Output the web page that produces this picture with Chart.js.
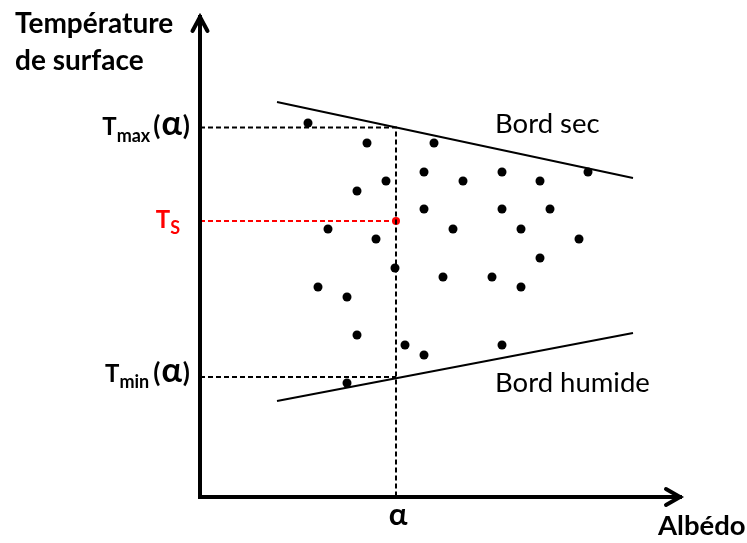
<!DOCTYPE html>
<html>
<head>
 <meta charset="utf-8" />
 <title>Température de surface / Albédo</title>
 <script src="https://cdn.jsdelivr.net/npm/chart.js@4.4.1/dist/chart.umd.min.js"></script>
 <style>
  body { margin: 0; background: #fff; }
  canvas { display: block; }
 </style>
</head>
<body>
 <canvas id="diagramme" width="747" height="543"></canvas>
 <script>
  // nuage de points (albédo, température), unités du schéma
  var albedo = [108, 167, 234, 224, 302, 388, 186, 263, 340, 157,
                224, 302, 350, 128, 253, 321, 176, 379, 340, 195,
                118, 243, 292, 321, 147, 157, 205, 224, 302, 147];
  var temperature = [374, 354, 354, 325, 325, 325, 316, 316, 316, 306,
                     288, 288, 288, 268, 268, 268, 258, 258, 239, 229,
                     210, 220, 220, 210, 200, 162, 152, 142, 152, 114];

  // bords sec et humide du triangle
  var bordSecX = [77, 433];
  var bordSecY = [395, 319];
  var bordHumideX = [77, 433];
  var bordHumideY = [96, 164];

  // valeurs repérées sur les axes
  var alpha = 196;
  var tMax = 369.5;
  var tS = 276;
  var tMin = 120;
  var axeMax = 482;

  function points(xs, ys) {
   return xs.map(function (x, i) { return { x: x, y: ys[i] }; });
  }

  var police = 'Lato, "Open Sans", sans-serif';

  // texte en morceaux (indices, alpha plus gros), aligné à droite
  function texteCompose(ctx, morceaux, droite, y) {
   var total = 0;
   morceaux.forEach(function (m) {
    ctx.font = m.font;
    m.w = ctx.measureText(m.t).width;
    total += m.w + (m.gap || 0);
   });
   var x = droite - total;
   morceaux.forEach(function (m) {
    ctx.font = m.font;
    ctx.fillText(m.t, x, y + (m.dy || 0));
    x += m.w + (m.gap || 0);
   });
  }

  // axes avec flèches + textes
  var decor = {
   id: 'decor',
   afterDatasetsDraw: function (chart) {
    var ctx = chart.ctx;
    var sx = chart.scales.x, sy = chart.scales.y;
    var x0 = sx.getPixelForValue(0), y0 = sy.getPixelForValue(0);
    var xEnd = sx.getPixelForValue(axeMax), yEnd = sy.getPixelForValue(axeMax);

    ctx.save();
    ctx.strokeStyle = '#000';
    ctx.lineWidth = 4;
    ctx.lineCap = 'square';
    ctx.beginPath();
    ctx.moveTo(x0, yEnd + 2);
    ctx.lineTo(x0, y0);
    ctx.lineTo(xEnd - 2, y0);
    ctx.stroke();

    // flèches
    ctx.lineCap = 'round';
    ctx.lineJoin = 'miter';
    ctx.beginPath();
    ctx.moveTo(x0 - 7.5, yEnd + 16);
    ctx.lineTo(x0, yEnd + 2);
    ctx.lineTo(x0 + 7.5, yEnd + 16);
    ctx.moveTo(xEnd - 16, y0 - 8);
    ctx.lineTo(xEnd - 2, y0);
    ctx.lineTo(xEnd - 16, y0 + 8);
    ctx.stroke();

    ctx.fillStyle = '#000';
    ctx.textBaseline = 'alphabetic';

    // titres des axes
    ctx.font = 'bold 28px ' + police;
    ctx.textAlign = 'left';
    ctx.fillText('Température', 15, 33);
    ctx.fillText('de surface', 15, 70);
    ctx.font = 'bold 27.5px ' + police;
    ctx.fillText('Albédo', 658, 535);

    // alpha sous l'axe des x
    ctx.textAlign = 'center';
    ctx.font = 'bold 31px ' + police;
    ctx.fillText('α', sx.getPixelForValue(alpha) + 2, 525);

    // étiquettes T sur l'axe des y
    ctx.textAlign = 'left';
    var fT = 'bold 24px ' + police, fI = 'bold 18px ' + police;
    var fP = 'bold 26px ' + police, fA = 'bold 34px ' + police;
    function alphaEntreParentheses() {
     return [
      { t: '(', font: fP, gap: 1 },
      { t: 'α', font: fA, gap: 1 },
      { t: ')', font: fP }
     ];
    }
    texteCompose(ctx, [{ t: 'T', font: fT }, { t: 'max', font: fI, dy: 7, gap: 3 }]
     .concat(alphaEntreParentheses()), x0 - 10, sy.getPixelForValue(tMax) + 7);
    texteCompose(ctx, [{ t: 'T', font: fT }, { t: 'min', font: fI, dy: 6, gap: 4 }]
     .concat(alphaEntreParentheses()), x0 - 10, sy.getPixelForValue(tMin) + 5);
    ctx.fillStyle = '#f00';
    texteCompose(ctx, [{ t: 'T', font: fT }, { t: 'S', font: fI, dy: 6 }],
     x0 - 20, sy.getPixelForValue(tS) + 7);

    // noms des bords
    ctx.fillStyle = '#000';
    ctx.font = '27.5px ' + police;
    ctx.fillText('Bord sec', 495, 132.5);
    ctx.fillText('Bord humide', 495, 391.5);
    ctx.restore();
   }
  };

  var ctx = document.getElementById('diagramme').getContext('2d');
  var chart = new Chart(ctx, {
   type: 'scatter',
   data: {
    datasets: [
     {
      data: points(albedo, temperature),
      pointRadius: 4.5,
      pointBackgroundColor: '#000',
      pointBorderWidth: 0
     },
     {
      data: points(bordSecX, bordSecY),
      showLine: true, borderColor: '#000', borderWidth: 2, pointRadius: 0
     },
     {
      data: points(bordHumideX, bordHumideY),
      showLine: true, borderColor: '#000', borderWidth: 2, pointRadius: 0
     },
     {
      data: [{ x: 0, y: tMax }, { x: alpha, y: tMax }, { x: alpha, y: 0 }],
      showLine: true, borderColor: '#000', borderWidth: 2, borderDash: [5, 3], pointRadius: 0
     },
     {
      data: [{ x: 0, y: tMin }, { x: alpha, y: tMin }],
      showLine: true, borderColor: '#000', borderWidth: 2, borderDash: [5, 3], pointRadius: 0
     },
     {
      data: [{ x: 0, y: tS }, { x: alpha, y: tS }],
      showLine: true, borderColor: '#f00', borderWidth: 2, borderDash: [5, 3],
      pointRadius: [0, 4], pointBackgroundColor: '#f00', pointBorderWidth: 0
     }
    ]
   },
   options: {
    responsive: false,
    animation: false,
    layout: { padding: { left: 200, right: 65, top: 15, bottom: 46 } },
    scales: {
     x: { type: 'linear', min: 0, max: axeMax, display: false },
     y: { type: 'linear', min: 0, max: axeMax, display: false }
    },
    plugins: {
     legend: { display: false },
     tooltip: { enabled: false }
    }
   },
   plugins: [decor]
  });
 </script>
</body>
</html>
